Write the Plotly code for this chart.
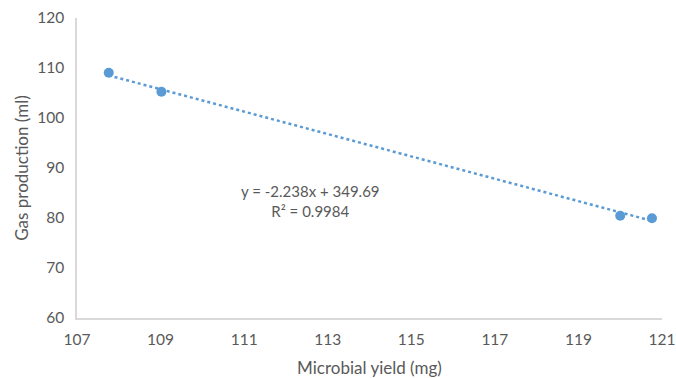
import plotly.graph_objects as go

# Data
microbial_yield = [107.76, 109.02, 120.0, 120.76]
gas_production = [109.06, 105.26, 80.46, 79.94]

# Trendline as reported on the chart
slope = -2.238
intercept = 349.69
r_squared = 0.9984

x_ticks = [107, 109, 111, 113, 115, 117, 119, 121]
y_ticks = [60, 70, 80, 90, 100, 110, 120]

blue = "#5B9BD5"
text_color = "#595959"
font_family = "Lato, 'Open Sans', sans-serif"

trend_x = [min(microbial_yield), max(microbial_yield)]
trend_y = [slope * v + intercept for v in trend_x]

fig = go.Figure()
fig.add_trace(go.Scatter(
    x=trend_x, y=trend_y, mode="lines",
    line=dict(color=blue, width=2.5, dash="dot"),
    showlegend=False, hoverinfo="skip",
))
fig.add_trace(go.Scatter(
    x=microbial_yield, y=gas_production, mode="markers",
    marker=dict(color=blue, size=10),
    showlegend=False,
))

fig.add_annotation(
    x=112.58, y=83.5, xref="x", yref="y",
    text=f"y = {slope}x + {intercept}<br>R² = {r_squared}",
    showarrow=False, align="center",
    font=dict(family=font_family, size=15, color=text_color),
)

fig.update_layout(
    width=676, height=378,
    margin=dict(l=77, r=14, t=18, b=60, autoexpand=False),
    paper_bgcolor="white", plot_bgcolor="white",
    font=dict(family=font_family, size=15, color=text_color),
)
fig.update_xaxes(
    range=[107, 121], tickvals=x_ticks, showgrid=False, zeroline=False,
    showline=True, linecolor="#D9D9D9", linewidth=1.5,
    ticks="", ticklen=0, automargin=False, ticklabelstandoff=7,
    title=dict(text="Microbial yield (mg)", standoff=18,
               font=dict(family=font_family, size=17, color=text_color)),
    tickfont=dict(family=font_family, size=15.5, color=text_color),
)
fig.update_yaxes(
    range=[60, 120], tickvals=y_ticks, showgrid=False, zeroline=False,
    showline=True, linecolor="#D9D9D9", linewidth=1.5,
    ticks="", ticklen=0, automargin=False, ticklabelstandoff=8,
    title=dict(text="Gas production (ml)", standoff=4,
               font=dict(family=font_family, size=17, color=text_color)),
    tickfont=dict(family=font_family, size=15.5, color=text_color),
)

fig.write_html("out.html")
